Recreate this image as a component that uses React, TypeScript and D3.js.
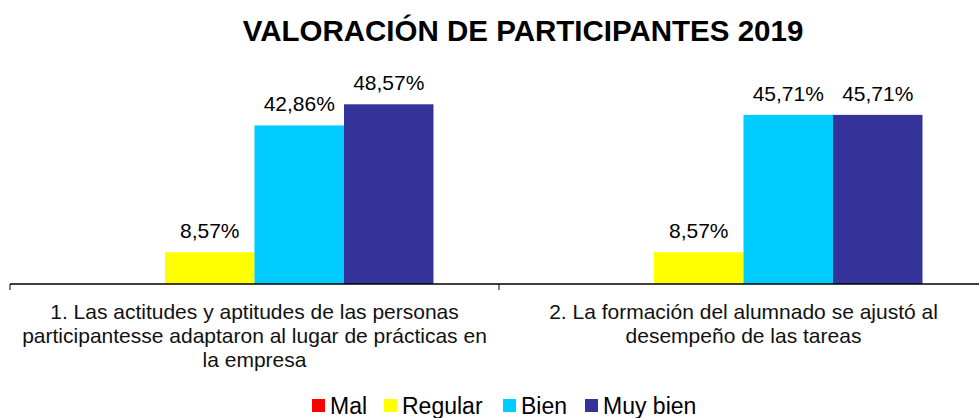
import React, { useEffect, useRef } from 'react';
import * as d3 from 'd3';

// Data
const categories = [
  ['1. Las actitudes y aptitudes de las personas', 'participantesse adaptaron al lugar de prácticas en', 'la empresa'],
  ['2. La formación del alumnado se ajustó al', 'desempeño de las tareas'],
];
const seriesNames = ['Mal', 'Regular', 'Bien', 'Muy bien'];
const mal = [0, 0];
const regular = [8.57, 8.57];
const bien = [42.86, 45.71];
const muyBien = [48.57, 45.71];

const App = () => {
  const svgRef = useRef<SVGSVGElement>(null);

  const width = 979;
  const height = 418;
  const colors = ['#FF0000', '#FFFF00', '#00CCFF', '#333399'];
  const font = '"Liberation Sans", Arial, sans-serif';

  useEffect(() => {
    document.body.style.margin = '0';
    const svg = d3.select(svgRef.current);
    svg.selectAll('*').remove();

    const series = [mal, regular, bien, muyBien];
    const catIdx = categories.map((_, i) => i);

    const x0 = d3.scaleBand<number>().domain(catIdx).range([10, 988]);
    const x1 = d3
      .scaleBand<number>()
      .domain(seriesNames.map((_, i) => i))
      .range([0, x0.bandwidth()])
      .paddingInner(0)
      .paddingOuter(0.732);
    const y = d3.scaleLinear().domain([0, 50]).range([284, 99]);

    // Title
    svg
      .append('text')
      .attr('x', 523)
      .attr('y', 41)
      .attr('text-anchor', 'middle')
      .style('font-family', font)
      .style('font-size', '29.5px')
      .style('font-weight', 'bold')
      .text('VALORACIÓN DE PARTICIPANTES 2019');

    // Bars
    const groups = svg
      .selectAll('g.cat')
      .data(catIdx)
      .enter()
      .append('g')
      .attr('transform', (d) => `translate(${x0(d)},0)`);

    groups.each(function (ci) {
      const g = d3.select(this);
      series.forEach((vals, si) => {
        const v = vals[ci];
        if (v <= 0) return;
        g.append('rect')
          .attr('x', x1(si)!)
          .attr('width', x1.bandwidth())
          .attr('y', y(v))
          .attr('height', y(0) - y(v))
          .style('fill', colors[si]);
        g.append('text')
          .attr('x', x1(si)! + x1.bandwidth() / 2)
          .attr('y', y(v) - 14)
          .attr('text-anchor', 'middle')
          .style('font-family', font)
          .style('font-size', '21px')
          .text(`${v.toFixed(2).replace('.', ',')}%`);
      });
    });

    // Axis line and ticks
    svg
      .append('line')
      .attr('x1', 10)
      .attr('x2', 988)
      .attr('y1', y(0))
      .attr('y2', y(0))
      .style('stroke', '#000')
      .style('stroke-width', 1.5);
    const tickPos = [...catIdx.map((d) => x0(d)!), 988];
    svg
      .selectAll('line.tick')
      .data(tickPos)
      .enter()
      .append('line')
      .attr('x1', (d) => d)
      .attr('x2', (d) => d)
      .attr('y1', y(0))
      .attr('y2', y(0) + 6)
      .style('stroke', '#000')
      .style('stroke-width', 1);

    // Category labels
    groups.each(function (ci) {
      const t = d3
        .select(this)
        .append('text')
        .attr('text-anchor', 'middle')
        .style('font-family', font)
        .style('font-size', '21px')
        .style('fill', '#111');
      categories[ci].forEach((line, li) => {
        t.append('tspan')
          .attr('x', x0.bandwidth() / 2)
          .attr('y', 319 + li * 24)
          .text(line);
      });
    });

    // Legend
    const legendX = [312, 384, 503, 585];
    const legend = svg
      .selectAll('g.legend')
      .data(seriesNames)
      .enter()
      .append('g')
      .attr('transform', (_, i) => `translate(${legendX[i]},399)`);
    legend
      .append('rect')
      .attr('width', 13)
      .attr('height', 13)
      .style('fill', (_, i) => colors[i]);
    legend
      .append('text')
      .attr('x', 18)
      .attr('y', 15)
      .style('font-family', font)
      .style('font-size', '23px')
      .text((d) => d);
  }, []);

  return <svg ref={svgRef} width={width} height={height} style={{ display: 'block', background: '#fff' }} />;
};

export default App;
